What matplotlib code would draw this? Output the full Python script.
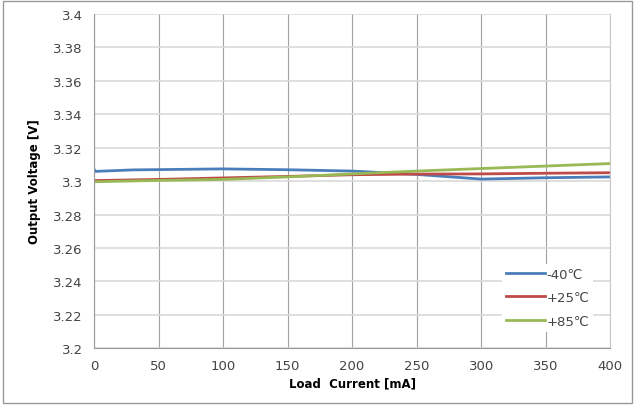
import numpy as np
import matplotlib
matplotlib.use("Agg")
import matplotlib.pyplot as plt
from matplotlib.patches import Rectangle

# data
cur_blue = [0, 1, 30, 100, 150, 200, 250, 300, 350, 400]
v_blue = [3.3072, 3.3058, 3.3067, 3.3073, 3.3068, 3.3060, 3.3040, 3.3012, 3.3020, 3.3025]
cur = [0, 50, 100, 150, 200, 250, 300, 350, 400]
v_red = [3.3003, 3.3010, 3.3019, 3.3028, 3.3038, 3.3042, 3.3043, 3.3047, 3.3050]
v_green = [3.2996, 3.3004, 3.3010, 3.3025, 3.3043, 3.3060, 3.3075, 3.3090, 3.3105]
labels = ['-40\u2103', '+25\u2103', '+85\u2103']
colors = ['#4a7ebb', '#be4b48', '#98b954']

fig = plt.figure(figsize=(6.35, 4.06), dpi=100)
ax = fig.add_axes([0.148, 0.140, 0.813, 0.823])
fig.patches.append(Rectangle((0.005, 0.005), 0.99, 0.99, transform=fig.transFigure,
                             fill=False, edgecolor='#999999', linewidth=1))

ax.plot(cur_blue, v_blue, color=colors[0], lw=2.0, label=labels[0])
ax.plot(cur, v_red, color=colors[1], lw=2.0, label=labels[1])
ax.plot(cur, v_green, color=colors[2], lw=2.0, label=labels[2])

ax.set_xlim(0, 400)
ax.set_ylim(3.2, 3.4)
ax.set_xticks(np.arange(0, 401, 50))
ax.set_yticks(np.arange(3.2, 3.401, 0.02))
ax.set_yticklabels(['3.2', '3.22', '3.24', '3.26', '3.28', '3.3', '3.32', '3.34', '3.36', '3.38', '3.4'])
ax.tick_params(length=0, labelsize=9.5, labelcolor='#444444', pad=8)
ax.xaxis.grid(True, color='#a0a0a0', lw=0.8)
ax.yaxis.grid(True, color='#d9d9d9', lw=1.2)
ax.set_axisbelow(True)
ax.spines['top'].set_visible(False)
ax.spines['right'].set_color('#c8c8c8')
for s in ['left', 'bottom']:
    ax.spines[s].set_color('#999999')

ax.set_xlabel('Load  Current [mA]', fontsize=8.5, fontweight='bold', labelpad=3)
ax.set_ylabel('Output Voltage [V]', fontsize=8.5, fontweight='bold', labelpad=9)

leg = ax.legend(loc='lower right', bbox_to_anchor=(0.98, 0.03), frameon=True,
                fontsize=9.5, handlelength=3.0, handletextpad=0.1, labelspacing=0.8,
                borderpad=0.3)
leg.get_frame().set_edgecolor('none')
leg.get_frame().set_facecolor('white')
leg.get_frame().set_alpha(1)
for t in leg.get_texts():
    t.set_color('#444444')

fig.savefig('out.png', dpi=100)
